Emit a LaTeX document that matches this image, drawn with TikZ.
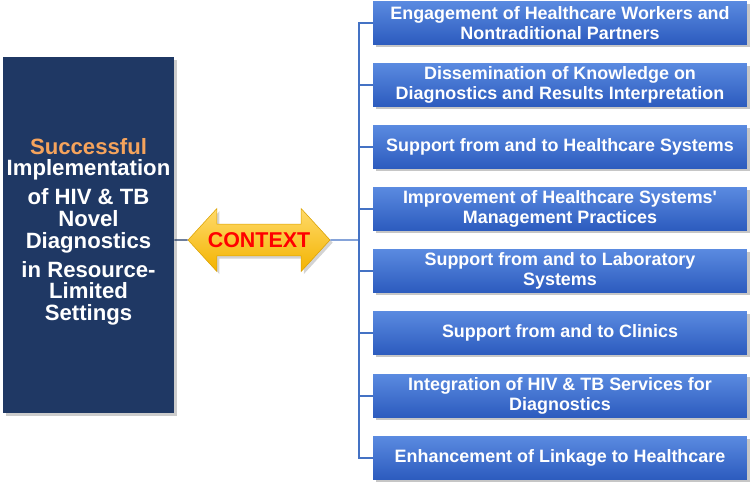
\documentclass[tikz,border=0pt]{standalone}
\usepackage{fontspec}
\setmainfont{Liberation Sans}
\usetikzlibrary{shapes.arrows,shadows}
\definecolor{navy}{HTML}{1F3864}
\definecolor{succ}{HTML}{F5A35C}
\definecolor{boxtop}{HTML}{5A8AE0}
\definecolor{boxbot}{HTML}{2C5BBE}
\definecolor{linkblue}{HTML}{4472C4}
\definecolor{ctxtop}{HTML}{FFDA6A}
\definecolor{ctxbot}{HTML}{F3B300}
\tikzset{
  topic/.style={rectangle, top color=boxtop, bottom color=boxbot, text=white,
    minimum width=7.48cm, minimum height=0.86cm, inner sep=0pt, align=center,
    font=\bfseries\fontsize{10.2}{11.3}\selectfont,
    drop shadow={opacity=0.45, shadow xshift=1.5pt, shadow yshift=-1.5pt}},
  link/.style={draw=linkblue, line width=0.6pt}
}
\begin{document}
\begin{tikzpicture}[x=0.02cm,y=-0.02cm]
\useasboundingbox (0,0) rectangle (750,488);
% goal
\node[rectangle, fill=navy, text=white, minimum width=3.42cm, minimum height=7.12cm,
  align=center, inner sep=0pt, font=\bfseries\fontsize{12.6}{12.4}\selectfont,
  drop shadow={opacity=0.4, shadow xshift=1.5pt, shadow yshift=-1.5pt}] (goal) at (88.5,235)
  {\textcolor{succ}{Successful}\\Implementation\\[4pt]of HIV \& TB\\Novel\\Diagnostics\\[4pt]in Resource-\\Limited\\Settings\\[-6pt]\mbox{}};
% context arrow
\node[double arrow, double arrow tip angle=95, double arrow head extend=0.31cm,
  minimum height=2.84cm, inner xsep=2pt, inner ysep=4.6pt, top color=ctxtop, bottom color=ctxbot,
  draw=ctxbot!90!black, line width=0.3pt, text=red, font=\bfseries\fontsize{12.2}{13}\selectfont,
  drop shadow={opacity=0.35, shadow xshift=1.5pt, shadow yshift=-1.5pt}] (ctx) at (259,240) {CONTEXT};
\coordinate (trunk) at (359,240);
% factors
\node[topic] (f1) at (560,23) {Engagement of Healthcare Workers and\\Nontraditional Partners};
\node[topic] (f2) at (560,85) {Dissemination of Knowledge on\\Diagnostics and Results Interpretation};
\node[topic] (f3) at (560,147) {Support from and to Healthcare Systems};
\node[topic] (f4) at (560,209) {Improvement of Healthcare Systems{\addfontfeatures{Ligatures=TeXOff}'}\\Management Practices};
\node[topic] (f5) at (560,271) {Support from and to Laboratory\\Systems};
\node[topic] (f6) at (560,333) {Support from and to Clinics};
\node[topic] (f7) at (560,396) {Integration of HIV \& TB Services for\\Diagnostics};
\node[topic] (f8) at (560,458) {Enhancement of Linkage to Healthcare};
\draw[draw=navy, line width=0.6pt] (goal.east |- ctx) -- (ctx.west);
\draw[link] (ctx.east) -- (trunk);
\draw[link] (trunk) |- (f1.west);
\draw[link] (trunk) |- (f2.west);
\draw[link] (trunk) |- (f3.west);
\draw[link] (trunk) |- (f4.west);
\draw[link] (trunk) |- (f5.west);
\draw[link] (trunk) |- (f6.west);
\draw[link] (trunk) |- (f7.west);
\draw[link] (trunk) |- (f8.west);
\end{tikzpicture}
\end{document}
